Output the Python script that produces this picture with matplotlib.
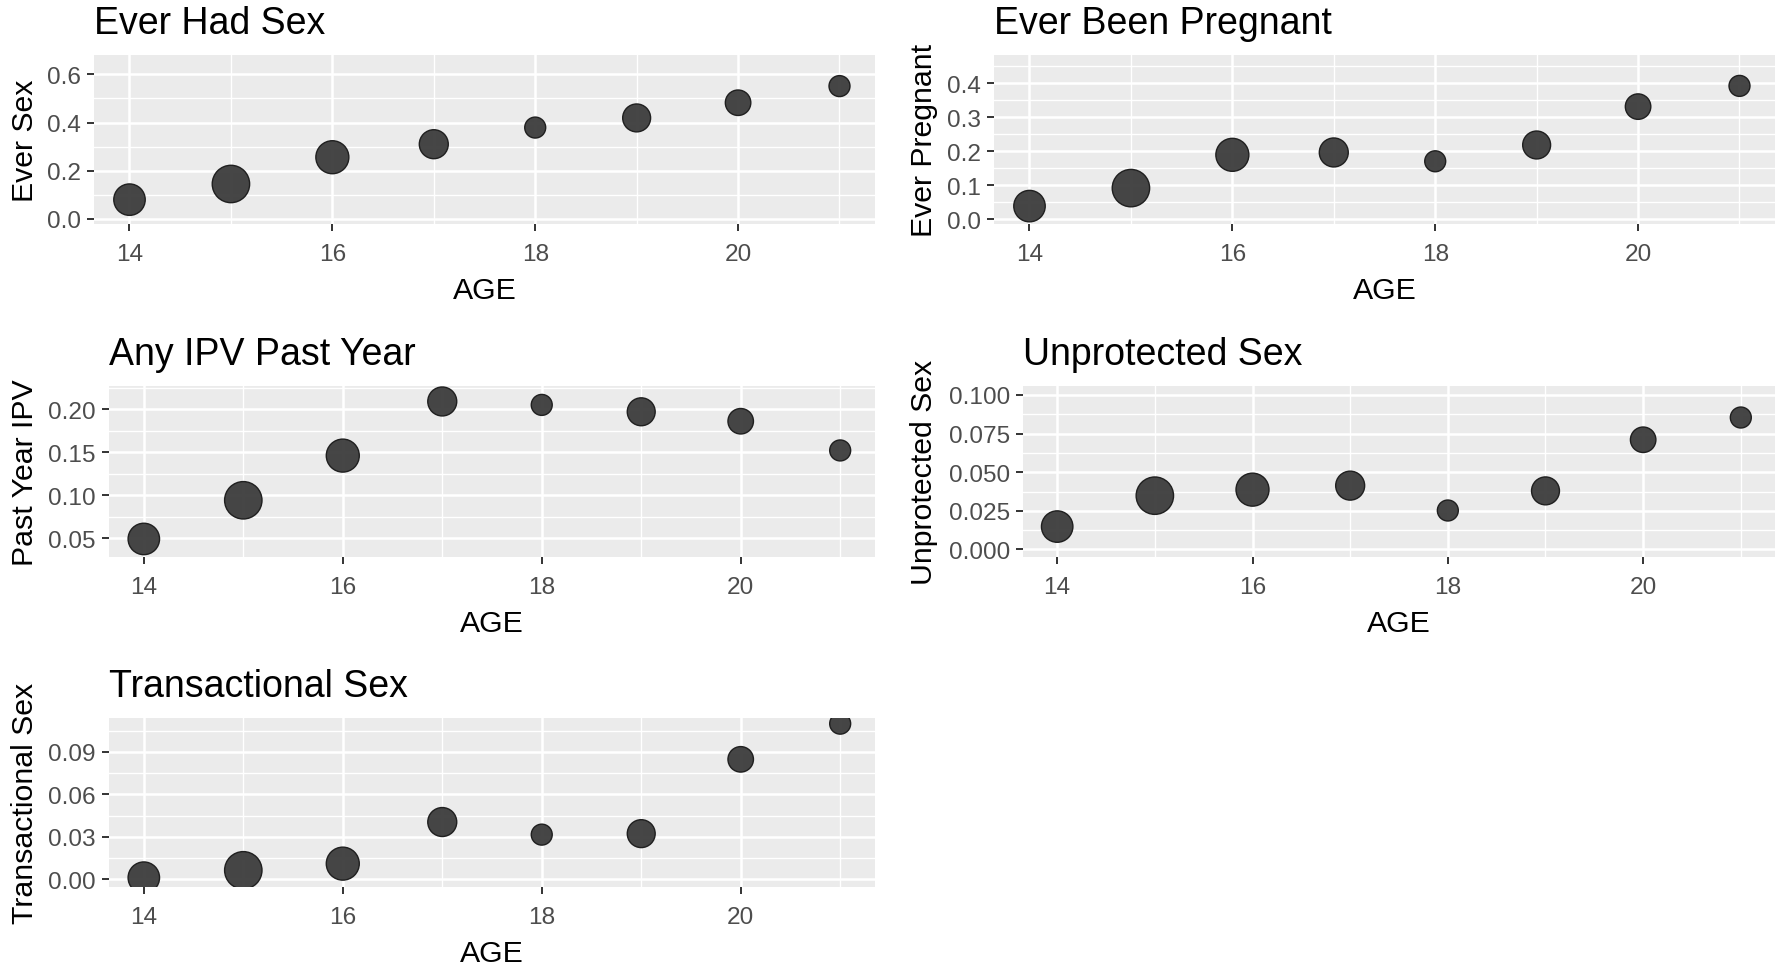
import matplotlib
matplotlib.use("Agg")
import matplotlib.pyplot as plt
import numpy as np

plt.rcParams['font.family'] = ['Liberation Sans', 'DejaVu Sans']

# ---------------- data ----------------
ages = [14, 15, 16, 17, 18, 19, 20, 21]
# relative group size per age (mapped to point area)
age_n = [990, 1400, 1090, 840, 440, 780, 650, 440]

ever_sex = [0.080, 0.145, 0.256, 0.310, 0.379, 0.419, 0.482, 0.551]
ever_pregnant = [0.038, 0.091, 0.189, 0.196, 0.170, 0.218, 0.331, 0.392]
ipv_past_year = [0.049, 0.094, 0.146, 0.209, 0.205, 0.197, 0.186, 0.152]
unprotected_sex = [0.0148, 0.0348, 0.0387, 0.0413, 0.0252, 0.0379, 0.0710, 0.0854]
transactional_sex = [0.0012, 0.0064, 0.0111, 0.0405, 0.0316, 0.0323, 0.0848, 0.110]

titles = ["Ever Had Sex", "Ever Been Pregnant", "Any IPV Past Year",
          "Unprotected Sex", "Transactional Sex"]
ylabels = ["Ever Sex", "Ever Pregnant", "Past Year IPV",
           "Unprotected Sex", "Transactional Sex"]
series = [ever_sex, ever_pregnant, ipv_past_year, unprotected_sex, transactional_sex]

x_major = [14, 16, 18, 20]
y_major = [
    [0.0, 0.2, 0.4, 0.6],
    [0.0, 0.1, 0.2, 0.3, 0.4],
    [0.05, 0.10, 0.15, 0.20],
    [0.000, 0.025, 0.050, 0.075, 0.100],
    [0.00, 0.03, 0.06, 0.09],
]
y_fmt = ["{:.1f}", "{:.1f}", "{:.2f}", "{:.3f}", "{:.2f}"]
ylims = [(-0.021, 0.680), (-0.0147, 0.483), (0.028, 0.227),
         (-0.0049, 0.1058), (-0.0054, 0.114)]

# ---------------- layout (pixels) ----------------
W, H = 1782, 970
panels_px = [  # left, right, top, bottom
    (94, 875, 56, 225),
    (994, 1775, 56, 225),
    (109, 875, 387, 558),
    (1023, 1775, 387, 558),
    (109, 875, 719, 888),
]
ylabel_baseline_x = [33, 932, 33, 932, 33]

fig = plt.figure(figsize=(W / 100, H / 100), dpi=100)
fig.patch.set_facecolor('white')

TITLE_FS = 27
AXT_FS = 21.8
TICK_FS = 17.6

for i in range(5):
    l, r, t, b = panels_px[i]
    ax = fig.add_axes([l / W, 1 - b / H, (r - l) / W, (b - t) / H])
    ax.set_facecolor('#EBEBEB')
    for s in ax.spines.values():
        s.set_visible(False)
    ax.set_axisbelow(True)

    ax.set_xlim(13.65, 21.35)
    ax.set_ylim(*ylims[i])
    ax.set_xticks(x_major)
    ax.set_xticks([15, 17, 19, 21], minor=True)
    ym = y_major[i]
    ax.set_yticks(ym)
    ax.set_yticklabels([y_fmt[i].format(v) for v in ym])
    step = ym[1] - ym[0]
    minors = [v + step / 2 for v in [ym[0] - step] + ym]
    lo, hi = ylims[i]
    ax.set_yticks([m for m in minors if lo < m < hi], minor=True)

    ax.grid(which='major', color='white', linewidth=1.8)
    ax.grid(which='minor', color='white', linewidth=1.0)
    ax.tick_params(which='major', length=5, width=1.4, color='#333333',
                   labelsize=TICK_FS, labelcolor='#4D4D4D')
    ax.tick_params(axis='x', which='major', pad=8.5)
    ax.tick_params(axis='y', which='major', pad=4.5)
    ax.tick_params(which='minor', length=0)

    ax.scatter(ages, series[i], s=[0.5184 * n for n in age_n],
               facecolor='#404040', edgecolor='#1c1c1c', linewidth=1.0,
               alpha=0.97, zorder=3)

    # titles
    fig.text(l / W, 1 - (t - 22) / H, titles[i], fontsize=TITLE_FS,
             ha='left', va='baseline', color='black')
    # x label
    ax.set_xlabel("AGE", fontsize=AXT_FS, color='black', va='baseline')
    ax.xaxis.set_label_coords(0.5, -(74) / (b - t))
    # y label
    ax.set_ylabel(ylabels[i], fontsize=AXT_FS, color='black', va='baseline')
    ax.yaxis.set_label_coords((ylabel_baseline_x[i] - l) / (r - l), 0.5)

fig.savefig("out.png", dpi=100, facecolor='white')
